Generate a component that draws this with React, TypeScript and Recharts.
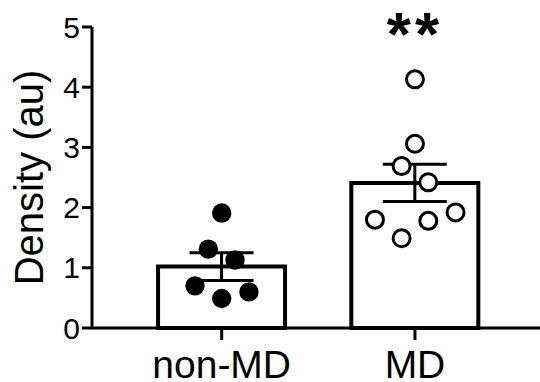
import React from 'react';
import {
  ComposedChart,
  Bar,
  Scatter,
  XAxis,
  YAxis,
  ErrorBar,
  ReferenceDot,
} from 'recharts';

const categories = ['non-MD', 'MD'];
const categoryPositions = [1, 2];
const means = [1.02, 2.41];
const sems = [0.23, 0.31];

const nonMdX = [1.0, 0.931, 1.069, 0.862, 1.0, 1.141];
const nonMdY = [1.91, 1.31, 1.13, 0.7, 0.49, 0.6];
const mdX = [2.0, 2.0, 1.931, 2.069, 1.793, 2.069, 2.21, 1.931];
const mdY = [4.13, 3.06, 2.69, 2.42, 1.8, 1.78, 1.92, 1.49];

const yTicks = [0, 1, 2, 3, 4, 5];
const xDomain = [0.329, 2.647];
const significance = { x: 2, y: 4.54, text: '**' };

const barData = categoryPositions.map((x, i) => ({ x, mean: means[i], sem: sems[i] }));
const nonMdData = nonMdX.map((x, i) => ({ x, y: nonMdY[i] }));
const mdData = mdX.map((x, i) => ({ x, y: mdY[i] }));

const FONT = '"Liberation Sans", Arial, Helvetica, sans-serif';

const FilledDot = (props: any) => (
  <circle cx={props.cx} cy={props.cy} r={9.7} fill="#000" />
);
const OpenDot = (props: any) => (
  <circle cx={props.cx} cy={props.cy} r={8.5} fill="#fff" stroke="#000" strokeWidth={3} />
);

const SigLabel = (props: any) => {
  const vb = props.viewBox || {};
  const cx = vb.cx !== undefined ? vb.cx : vb.x + (vb.width || 0) / 2;
  const cy = vb.cy !== undefined ? vb.cy : vb.y + (vb.height || 0) / 2;
  return (
    <text
      x={cx}
      y={cy}
      textAnchor="middle"
      fontSize={62}
      fontWeight="bold"
      fontFamily={FONT}
      letterSpacing={4}
      fill="#000"
    >
      {significance.text}
    </text>
  );
};

export default function App() {
  return (
    <div style={{ position: 'absolute', left: 0, top: 0, background: '#fff' }}>
      <ComposedChart
        width={540}
        height={382}
        data={barData}
        margin={{ top: 27, right: 0, bottom: 0, left: 0 }}
      >
        <XAxis
          xAxisId="bars"
          dataKey="x"
          type="number"
          domain={xDomain}
          allowDataOverflow
          ticks={categoryPositions}
          tickFormatter={(v: number) => categories[categoryPositions.indexOf(v)] ?? ''}
          axisLine={{ stroke: '#000', strokeWidth: 3 }}
          tickLine={{ stroke: '#000', strokeWidth: 3 }}
          tickSize={12}
          tickMargin={10}
          tick={{ fill: '#000', fontSize: 39, fontFamily: FONT }}
          interval={0}
          height={54}
        />
        <XAxis
          xAxisId="points"
          dataKey="x"
          type="number"
          domain={xDomain}
          allowDataOverflow
          hide
        />
        <YAxis
          type="number"
          domain={[0, 5]}
          ticks={yTicks}
          interval={0}
          width={92}
          axisLine={{ stroke: '#000', strokeWidth: 3 }}
          tickLine={{ stroke: '#000', strokeWidth: 3 }}
          tickSize={10}
          tickMargin={2}
          tick={{ fill: '#000', fontSize: 30, fontFamily: FONT }}
          label={{
            value: 'Density (au)',
            angle: -90,
            position: 'insideLeft',
            offset: 29,
            style: { textAnchor: 'middle', fill: '#000', fontSize: 40, fontFamily: FONT },
          }}
        />
        <Bar
          xAxisId="bars"
          dataKey="mean"
          barSize={127}
          fill="#fff"
          stroke="#000"
          strokeWidth={4}
          isAnimationActive={false}
        >
          <ErrorBar dataKey="sem" width={32} stroke="#000" strokeWidth={3} direction="y" />
        </Bar>
        <Scatter xAxisId="points" data={nonMdData} dataKey="y" shape={FilledDot} isAnimationActive={false} />
        <Scatter xAxisId="points" data={mdData} dataKey="y" shape={OpenDot} isAnimationActive={false} />
        <ReferenceDot
          xAxisId="bars"
          x={significance.x}
          y={significance.y}
          r={0}
          ifOverflow="visible"
          fill="none"
          stroke="none"
          label={<SigLabel />}
        />
      </ComposedChart>
    </div>
  );
}
